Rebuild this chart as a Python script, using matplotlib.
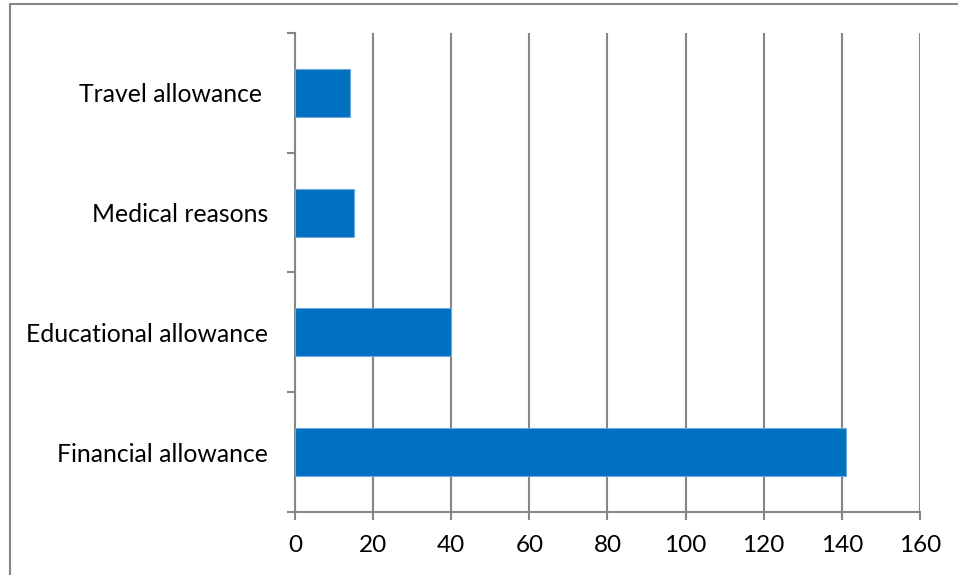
import matplotlib.pyplot as plt
from matplotlib.patches import Rectangle

plt.rcParams['font.family'] = ['Lato', 'DejaVu Sans']

categories = ['Financial allowance', 'Educational allowance', 'Medical reasons', 'Travel allowance ']
counts = [141, 40, 15, 14]
x_ticks = [0, 20, 40, 60, 80, 100, 120, 140, 160]

grey = '#868686'

fig = plt.figure(figsize=(9.58, 5.75), dpi=100)
ax = fig.add_axes([0.3079, 0.1096, 0.6524, 0.833])

# chart area border (only left and top fall inside the canvas)
fig.patches.append(Rectangle((9.5 / 958, -0.1), 1.2, 1.1 - 3.5 / 575,
                             transform=fig.transFigure, fill=False,
                             edgecolor=grey, linewidth=1.5))

pos = range(len(categories))
ax.barh(pos, counts, height=0.4, color='#0070C0', edgecolor='#6FA8DC',
        linewidth=0.8, zorder=3)

ax.set_xlim(0, 160)
ax.set_ylim(-0.5, len(categories) - 0.5)
ax.set_xticks(x_ticks)
ax.set_xticklabels([str(v) for v in x_ticks], fontsize=17.5)
ax.set_yticks(list(pos))
ax.set_yticklabels(categories, fontsize=17.8)
ax.set_yticks([i - 0.5 for i in range(len(categories) + 1)], minor=True)

ax.tick_params(axis='y', which='major', length=0, pad=19.5)
ax.tick_params(axis='y', which='minor', length=6, width=1.5, color=grey)
ax.tick_params(axis='x', length=6, width=1.5, color=grey, pad=10.5)

ax.grid(axis='x', color=grey, linewidth=1.5, zorder=0)
for side in ['top', 'right']:
    ax.spines[side].set_visible(False)
for side in ['left', 'bottom']:
    ax.spines[side].set_color(grey)
    ax.spines[side].set_linewidth(1.5)

fig.savefig('out.png', dpi=100)
